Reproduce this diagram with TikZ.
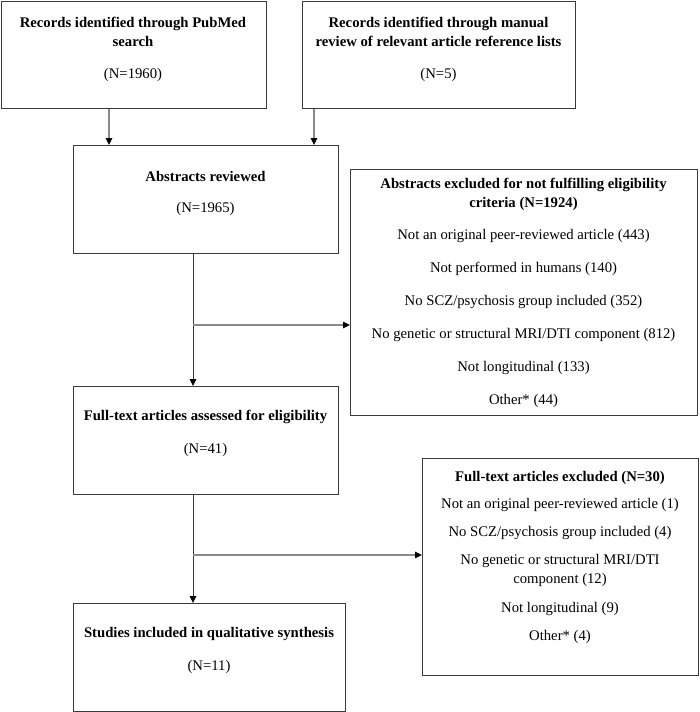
\documentclass[tikz,border=0pt]{standalone}
\usepackage{fontspec}
\setmainfont{Liberation Serif}
\usetikzlibrary{arrows.meta}
\definecolor{boxgray}{HTML}{3A3A3A}
\definecolor{linegray}{HTML}{8A8A8A}
\begin{document}
\begin{tikzpicture}[x=1pt,y=-1pt,
  box/.style={draw=boxgray, line width=1.3pt, anchor=north west, inner sep=0pt},
  tb/.style={font=\fontsize{14.7}{19}\selectfont\bfseries, align=center, inner sep=0pt, text=black},
  tr/.style={font=\fontsize{14.7}{19}\selectfont, align=center, inner sep=0pt, text=black},
  tip/.style={-{Triangle[length=7pt,width=6.5pt,color=black]}},
  darkline/.style={draw=boxgray, line width=0.9pt},
  lightline/.style={draw=linegray, line width=1.3pt}]
\path[use as bounding box] (0,0) rectangle (700,712);
% boxes
\node[box, minimum width=265pt, minimum height=107pt] (b1) at (0.7,0.7) {};
\node[box, minimum width=273pt, minimum height=107pt] (b2) at (302,0.7) {};
\node[box, minimum width=265pt, minimum height=108pt] (b3) at (73,145) {};
\node[box, minimum width=347pt, minimum height=246pt] (b4) at (350,169) {};
\node[box, minimum width=265pt, minimum height=108pt] (b5) at (73,386) {};
\node[box, minimum width=276pt, minimum height=217pt] (b6) at (422,458) {};
\node[box, minimum width=272pt, minimum height=108pt] (b7) at (73,603) {};
% texts
\node[tb] (t1) at (133,31.5) {Records identified through PubMed\\search};
\node[tr] (n1) at (133,75) {(N=1960)};
\node[tb] (t2) at (438.5,31.5) {Records identified through manual\\review of relevant article reference lists};
\node[tr] (n2) at (438.5,75) {(N=5)};
\node[tb] (t3) at (205.5,176) {Abstracts reviewed};
\node[tr] (n3) at (205.5,209) {(N=1965)};
\node[tb] (t4) at (523.5,194) {Abstracts excluded for not fulfilling eligibility\\criteria (N=1924)};
\node[tr] (a1) at (523.5,236) {Not an original peer-reviewed article (443)};
\node[tr] (a2) at (523.5,269) {Not performed in humans (140)};
\node[tr] (a3) at (523.5,302) {No SCZ/psychosis group included (352)};
\node[tr] (a4) at (523.5,335) {No genetic or structural MRI/DTI component (812)};
\node[tr] (a5) at (523.5,368) {Not longitudinal (133)};
\node[tr] (a6) at (523.5,401) {Other* (44)};
\node[tb] (t5) at (205.5,417) {Full-text articles assessed for eligibility};
\node[tr] (n5) at (205.5,450) {(N=41)};
\node[tb] (t6) at (560,478) {Full-text articles excluded (N=30)};
\node[tr] (c1) at (560,505) {Not an original peer-reviewed article (1)};
\node[tr] (c2) at (560,533) {No SCZ/psychosis group included (4)};
\node[tr] (c3) at (560,570.5) {No genetic or structural MRI/DTI\\component (12)};
\node[tr] (c4) at (560,609) {Not longitudinal (9)};
\node[tr] (c5) at (560,637) {Other* (4)};
\node[tb] (t7) at (209,634) {Studies included in qualitative synthesis};
\node[tr] (n7) at (209,667) {(N=11)};
% connectors
\draw[lightline, tip] ([xshift=108.3pt]b1.south west) -- ([xshift=36pt]b3.north west);
\draw[lightline, tip] ([xshift=12pt]b2.south west) -- ([xshift=241pt]b3.north west);
\draw[darkline, tip] ([xshift=120pt]b3.south west) -- ([xshift=120pt]b5.north west);
\coordinate (j1) at (193,325);
\draw[lightline, tip] (j1) -- (j1 -| b4.west);
\draw[darkline, tip] ([xshift=120pt]b5.south west) -- ([xshift=120pt]b7.north west);
\coordinate (j2) at (193,555);
\draw[lightline, tip] (j2) -- (j2 -| b6.west);
\end{tikzpicture}
\end{document}
